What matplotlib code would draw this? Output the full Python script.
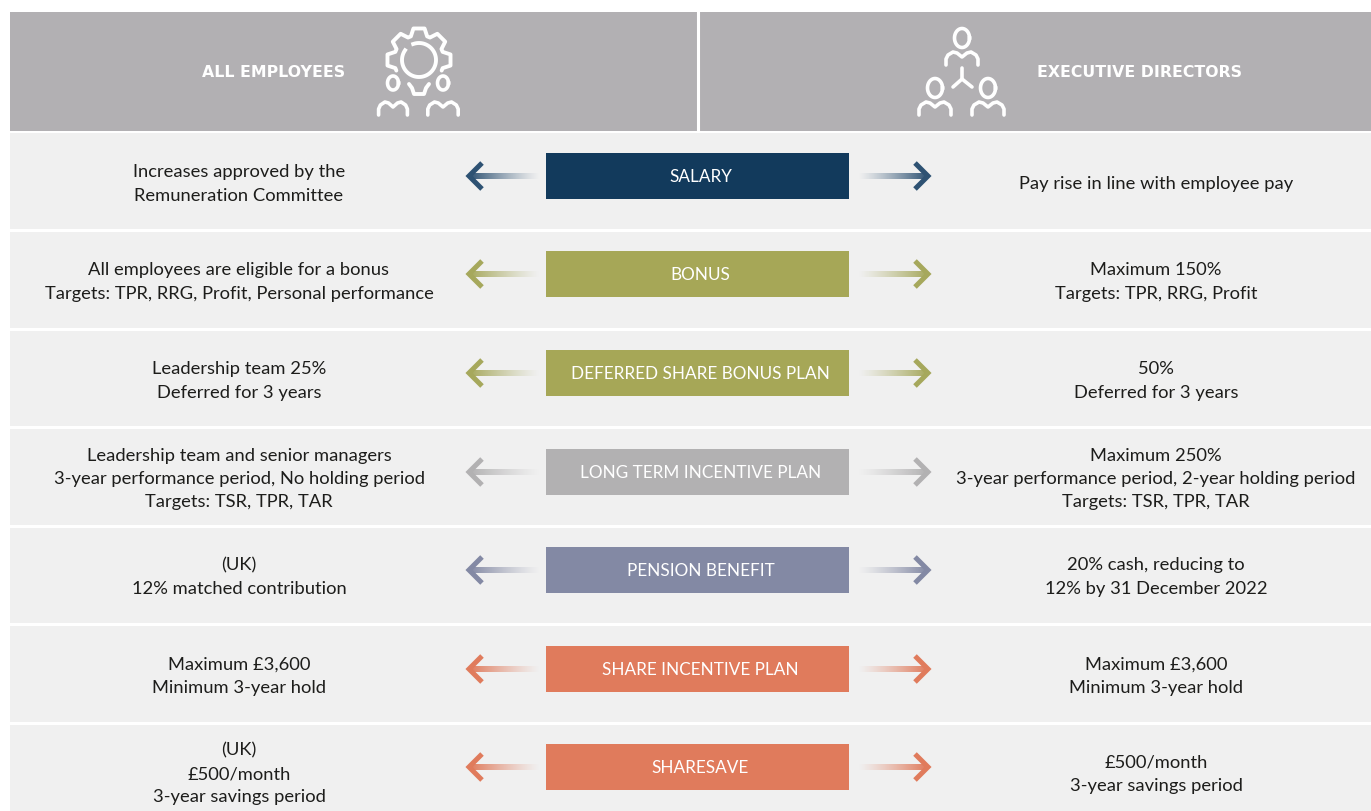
import numpy as np
import matplotlib
matplotlib.use("Agg")
import matplotlib.pyplot as plt
from matplotlib.colors import to_rgb
from matplotlib.patches import Rectangle

# Content of the table, top row to bottom row
plans = ["SALARY", "BONUS", "DEFERRED SHARE BONUS PLAN", "LONG TERM INCENTIVE PLAN",
         "PENSION BENEFIT", "SHARE INCENTIVE PLAN", "SHARESAVE"]
employees = ["Increases approved by the\nRemuneration Committee",
             "All employees are eligible for a bonus\nTargets: TPR, RRG, Profit, Personal performance",
             "Leadership team 25%\nDeferred for 3 years",
             "Leadership team and senior managers\n3-year performance period, No holding period\nTargets: TSR, TPR, TAR",
             "(UK)\n12% matched contribution",
             "Maximum £3,600\nMinimum 3-year hold",
             "(UK)\n£500/month\n3-year savings period"]
directors = ["Pay rise in line with employee pay",
             "Maximum 150%\nTargets: TPR, RRG, Profit",
             "50%\nDeferred for 3 years",
             "Maximum 250%\n3-year performance period, 2-year holding period\nTargets: TSR, TPR, TAR",
             "20% cash, reducing to\n12% by 31 December 2022",
             "Maximum £3,600\nMinimum 3-year hold",
             "£500/month\n3-year savings period"]
box_colors = ["#123a5c", "#a6a757", "#a6a757", "#b2b1b2", "#8389a4", "#e07b5c", "#e07b5c"]
arrow_colors = ["#2e5273", "#a6a85c", "#a6a85c", "#b2b1b2", "#8389a4", "#e07b5c", "#e07b5c"]
header_left = "ALL EMPLOYEES"
header_right = "EXECUTIVE DIRECTORS"

# Layout in pixels
W, H = 1371, 812
GREY = "#b2b0b3"
ROW_BG = "#f0f0f0"
row_top = [133, 232, 331, 429, 528, 626, 725]
row_bot = [229, 328, 426, 525, 623, 722, 813]
text_mid = [183, 281, 380, 478, 576, 675, 773]
box_top = [153, 251, 350, 449, 547, 646, 744]

plt.rcParams['font.family'] = ['Lato', 'DejaVu Sans']
fig = plt.figure(figsize=(W / 100, H / 100), dpi=100, facecolor="white")
ax = fig.add_axes([0, 0, 1, 1])


def arrow(x_tip, x_fade, y, color):
    # shaft fades out towards the box
    d = 1 if x_fade > x_tip else -1
    rgba = np.zeros((1, 64, 4))
    rgba[0, :, :3] = to_rgb(color)
    rgba[0, :, 3] = np.linspace(1, 0, 64) ** 1.2
    ax.imshow(rgba, extent=(x_tip + d * 3, x_fade, y + 3, y - 3), aspect="auto", zorder=3, interpolation="bilinear")
    ax.plot([x_tip + d * 16, x_tip + d * 3, x_tip + d * 16], [y - 13, y, y + 13], color=color, lw=3.6,
            solid_joinstyle="miter", solid_capstyle="butt", zorder=4)


def person(cx, cy, hw=7.5, hh=9.5, dy=0, sx=1.0):
    t = np.linspace(0, 2 * np.pi, 60)
    ax.plot(cx + hw * np.cos(t), cy + hh * np.sin(t), color="white", lw=2.6, zorder=4)
    xs = cx + sx * np.array([-16, -16, -14, -9, -5, 0, 5, 9, 14, 16, 16])
    ys = cy + dy + np.array([27, 21, 17, 14, 15, 19, 15, 14, 17, 21, 27])
    ax.plot(xs, ys, color="white", lw=2.6, zorder=4, solid_capstyle="round", solid_joinstyle="round")


def gear(cx, cy):
    pts = []
    # teeth every 45 degrees, over the top from lower right to lower left
    for a in [0, -45, -90, -135, -180]:
        for da, r in [(19, 25), (10, 32), (-10, 32), (-19, 25)]:
            pts.append((a + da, r))
    pts = [(25, 25)] + pts + [(-205, 25)]
    ang = np.radians([p[0] for p in pts])
    rad = np.array([p[1] for p in pts])
    ax.plot(cx + rad * np.cos(ang), cy + rad * np.sin(ang), color="white", lw=2.8, zorder=4,
            solid_joinstyle="round", solid_capstyle="round")
    t = np.radians(np.linspace(-110, 215, 80))
    ax.plot(cx + 17 * np.cos(t), cy + 17 * np.sin(t), color="white", lw=2.8, zorder=4)
    # bottom tooth
    ax.plot(cx + np.array([-10, -7, -5, 5, 7, 10]), cy + np.array([24, 28, 34, 34, 28, 24]), color="white",
            lw=2.8, zorder=4, solid_joinstyle="round", solid_capstyle="round")


# header band
ax.add_patch(Rectangle((10, 12), W - 10, 119, color=GREY, lw=0))
ax.plot([697.5, 697.5], [12, 131], color="white", lw=2.2)
ax.text(273.5, 71.5, header_left, color="white", fontsize=11.3, fontweight="bold", family=['DejaVu Sans'],
        ha="center", va="center")
ax.text(1139.5, 71.5, header_right, color="white", fontsize=11.3, fontweight="bold", family=['DejaVu Sans'],
        ha="center", va="center")
gear(419, 60)
person(393, 83, hw=5.5, hh=7, dy=5, sx=0.9)
person(443, 83, hw=5.5, hh=7, dy=5, sx=0.95)
person(962, 38)
person(935, 88)
person(988, 88)
ax.plot([962, 962], [68, 79], color="white", lw=2.6, solid_capstyle="round", zorder=4)
ax.plot([953, 962, 972], [87, 79, 87], color="white", lw=2.6, solid_capstyle="round", zorder=4)

# rows
for i in range(len(plans)):
    ax.add_patch(Rectangle((10, row_top[i]), W - 10, row_bot[i] - row_top[i], color=ROW_BG, lw=0))
    ax.add_patch(Rectangle((546, box_top[i]), 303, 46, color=box_colors[i], lw=0, zorder=2))
    ym = box_top[i] + 23
    ax.text(700.5, ym, plans[i], color="white", fontsize=12.35, ha="center", va="center", zorder=5)
    arrow(466, 540, ym, arrow_colors[i])
    arrow(931, 858, ym, arrow_colors[i])
    ax.text(239, text_mid[i], employees[i], color="#1d1d1b", fontsize=13.2, ha="center", va="center",
            linespacing=1.55, zorder=5)
    ax.text(1156, text_mid[i], directors[i], color="#1d1d1b", fontsize=13.2, ha="center", va="center",
            linespacing=1.55, zorder=5)

ax.set_xlim(0, W)
ax.set_ylim(H - 1, -1)
ax.axis("off")
fig.savefig("out.png", dpi=100, facecolor="white")
